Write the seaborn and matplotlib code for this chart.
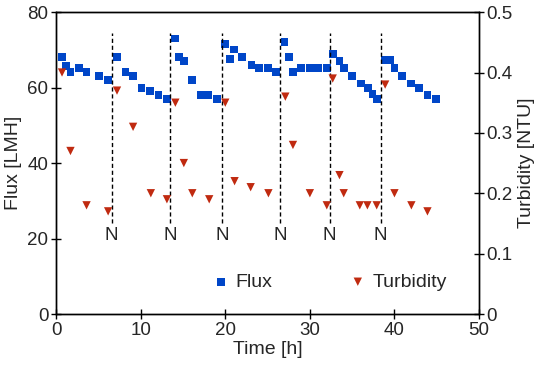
import pandas as pd
import matplotlib
matplotlib.use('Agg')
import matplotlib.pyplot as plt
import seaborn as sns

# Flux readings (time in h, flux in LMH)
flux_time = [0.7, 1.2, 1.7, 2.7, 3.6, 5.1, 6.1, 7.2, 8.2, 9.1, 10.1, 11.1, 12.1, 13.1,
             14.1, 14.5, 15.1, 16.1, 17.1, 18.0, 19.0, 20.0, 20.6, 21.0, 22.0, 23.1,
             24.0, 25.0, 26.0, 27.0, 27.5, 28.0, 29.0, 30.0, 31.0, 32.0, 32.7, 33.5,
             34.0, 35.0, 36.0, 36.9, 37.4, 37.9, 38.9, 39.5, 40.0, 40.9, 42.0, 42.9,
             43.9, 44.9]
flux = [68.2, 65.7, 64.1, 65.1, 64.1, 63.0, 62.0, 68.1, 64.1, 63.0, 60.0, 59.0, 58.0, 57.0,
        73.0, 68.0, 67.0, 62.0, 58.0, 58.0, 57.0, 71.5, 67.6, 70.1, 68.1, 66.1,
        65.1, 65.1, 64.1, 72.1, 68.1, 64.1, 65.1, 65.1, 65.1, 65.1, 68.8, 67.1,
        65.1, 63.0, 61.1, 60.0, 58.2, 57.0, 67.2, 67.2, 65.1, 63.0, 61.1, 60.0,
        58.0, 57.0]

# Turbidity readings (NTU)
turb_time = [0.7, 1.7, 3.6, 6.15, 7.2, 9.1, 11.2, 13.1, 14.1, 15.1, 16.1, 18.1, 20.0,
             21.1, 23.0, 25.1, 27.1, 28.0, 30.0, 32.0, 32.7, 33.5, 34.0, 35.9, 36.8,
             37.9, 38.9, 40.0, 42.0, 43.9]
turbidity = [0.40, 0.27, 0.18, 0.17, 0.37, 0.31, 0.20, 0.19, 0.35, 0.25, 0.20, 0.19, 0.35,
             0.22, 0.21, 0.20, 0.36, 0.28, 0.20, 0.18, 0.39, 0.23, 0.20, 0.18, 0.18,
             0.18, 0.38, 0.20, 0.18, 0.17]

# cleaning events marked "N"
n_times = [6.55, 13.5, 19.65, 26.5, 32.35, 38.35]

df_flux = pd.DataFrame({'Time': flux_time, 'Flux': flux})
df_turb = pd.DataFrame({'Time': turb_time, 'Turbidity': turbidity})

sns.set_style('ticks')
plt.rcParams['font.family'] = ['Liberation Sans', 'DejaVu Sans']
plt.rcParams['font.size'] = 13.5

fig, ax = plt.subplots(figsize=(5.5, 3.79), dpi=100)
fig.subplots_adjust(left=0.102, right=0.871, top=0.968, bottom=0.1715)
ax2 = ax.twinx()

sns.scatterplot(data=df_flux, x='Time', y='Flux', ax=ax, marker='s', s=32,
                color='#0046c8', edgecolor='none', label='Flux', legend=False)
sns.scatterplot(data=df_turb, x='Time', y='Turbidity', ax=ax2, marker='v', s=36,
                color='#c02a10', edgecolor='none', label='Turbidity', legend=False)

for t in n_times:
    ax.plot([t, t], [24, 74.5], ls='--', color='black', lw=1, dashes=(3, 2))
    ax.text(t, 20.7, 'N', ha='center', va='center', fontsize=13.5)

ax.set_xlim(0, 50)
ax.set_ylim(0, 80)
ax2.set_ylim(0, 0.5)
ax.set_xticks([0, 10, 20, 30, 40, 50])
ax.set_yticks([0, 20, 40, 60, 80])
ax2.set_yticks([0, 0.1, 0.2, 0.3, 0.4, 0.5])
ax2.set_yticklabels(['0', '0.1', '0.2', '0.3', '0.4', '0.5'])

ax.set_xlabel('Time [h]', fontsize=14, labelpad=2)
ax.set_ylabel('Flux [LMH]', fontsize=14, labelpad=4)
ax2.set_ylabel('Turbidity [NTU]', fontsize=14, labelpad=4)

for a in (ax, ax2):
    a.tick_params(direction='inout', length=7, width=1, labelsize=13.5, color='black', pad=2)
    for sp in a.spines.values():
        sp.set_visible(True)
        sp.set_color('black')
        sp.set_linewidth(1)

h1, l1 = ax.get_legend_handles_labels()
h2, l2 = ax2.get_legend_handles_labels()
ax2.legend(h1 + h2, l1 + l2, ncol=2, frameon=False, loc='center',
           bbox_to_anchor=(0.645, 0.106), columnspacing=3.9, handletextpad=0.25,
           handlelength=1.0, fontsize=14)

fig.savefig('out.png', dpi=100)
